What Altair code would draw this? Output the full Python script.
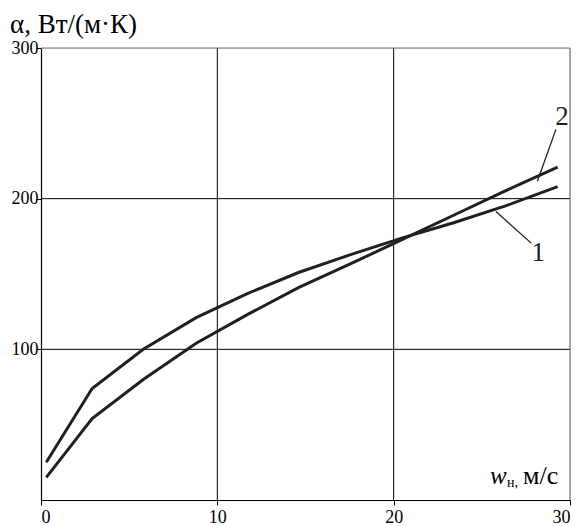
import altair as alt
import pandas as pd

speed = [0.3, 2.9, 5.8, 8.8, 11.7, 14.6, 17.6, 20.5, 23.4, 26.3, 29.3]
alpha_1 = [25, 74, 100, 121, 137, 151, 163, 174, 184, 195, 208]
alpha_2 = [15, 54, 80, 104, 123, 141, 157, 173, 189, 205, 221]

x_ticks = [0, 10, 20, 30]
y_ticks = [100, 200, 300]
x_grid = [10, 20]
y_grid = [100, 200]

curve_labels = ["1", "2"]
label_x = [28.2, 29.55]
label_y = [164, 254]
leader_x = [25.8, 29.2]
leader_x2 = [27.8, 28.15]
leader_y = [191.5, 246]
leader_y2 = [170.5, 211.5]

FONT = "'Liberation Serif', 'Times New Roman', 'DejaVu Serif', serif"
INK = "#231f20"

df = pd.DataFrame({
    "w": speed * 2,
    "a": alpha_1 + alpha_2,
    "curve": ["1"] * len(speed) + ["2"] * len(speed),
})

xs = alt.Scale(domain=[0, 30], nice=False, zero=False)
ys = alt.Scale(domain=[0, 300], nice=False)

base = alt.Chart(df)

lines = base.mark_line(color=INK, strokeWidth=3).encode(
    x=alt.X("w:Q", scale=xs,
            axis=alt.Axis(values=x_ticks, title=None, grid=False, domainColor="black",
                          tickColor="black", tickSize=5, labelFont=FONT, labelFontSize=18,
                          labelColor="black", labelPadding=3, domainWidth=1.2)),
    y=alt.Y("a:Q", scale=ys,
            axis=alt.Axis(values=y_ticks, title=None, grid=False, domainColor="black",
                          tickColor="black", tickSize=5, labelFont=FONT, labelFontSize=18,
                          labelColor="black", labelPadding=-2, domainWidth=1.2)),
    detail="curve:N",
)

vgrid = alt.Chart(pd.DataFrame({"v": x_grid})).mark_rule(color="black", strokeWidth=1).encode(
    x=alt.X("v:Q", scale=xs))
hgrid = alt.Chart(pd.DataFrame({"v": y_grid})).mark_rule(color="black", strokeWidth=1).encode(
    y=alt.Y("v:Q", scale=ys))
top_edge = alt.Chart(pd.DataFrame({"v": [300]})).mark_rule(color="#777777", strokeWidth=1.2).encode(
    y=alt.Y("v:Q", scale=ys))
right_edge = alt.Chart(pd.DataFrame({"v": [30]})).mark_rule(color="#777777", strokeWidth=1.2).encode(
    x=alt.X("v:Q", scale=xs))

ann = pd.DataFrame({
    "t": curve_labels, "lx": label_x, "ly": label_y,
    "x1": leader_x, "x2": leader_x2, "y1": leader_y, "y2": leader_y2,
})
leaders = alt.Chart(ann).mark_rule(color=INK, strokeWidth=1.3).encode(
    x=alt.X("x1:Q", scale=xs), x2="x2:Q",
    y=alt.Y("y1:Q", scale=ys), y2="y2:Q")
labels = alt.Chart(ann).mark_text(font=FONT, fontSize=27, color=INK).encode(
    x=alt.X("lx:Q", scale=xs), y=alt.Y("ly:Q", scale=ys), text="t:N")

ytitle = alt.Chart(pd.DataFrame({"t": ["α, Вт/(м·К)"]})).mark_text(
    font=FONT, fontSize=27, color="black", align="left", baseline="alphabetic").encode(
    x=alt.value(-31), y=alt.value(-15), text="t:N")
xt_w = alt.Chart(pd.DataFrame({"t": ["w"]})).mark_text(
    font=FONT, fontSize=25, fontStyle="italic", color="black", align="left",
    baseline="alphabetic").encode(x=alt.value(449), y=alt.value(436), text="t:N")
xt_sub = alt.Chart(pd.DataFrame({"t": ["н,"]})).mark_text(
    font=FONT, fontSize=14, color="black", align="left",
    baseline="alphabetic").encode(x=alt.value(466), y=alt.value(439), text="t:N")
xt_unit = alt.Chart(pd.DataFrame({"t": ["м/с"]})).mark_text(
    font=FONT, fontSize=26, color="black", align="left",
    baseline="alphabetic").encode(x=alt.value(482), y=alt.value(436), text="t:N")

chart = alt.layer(
    vgrid, hgrid, top_edge, right_edge, lines, leaders, labels,
    ytitle, xt_w, xt_sub, xt_unit,
).properties(
    width=529, height=452, autosize="none",
    padding={"left": 33, "top": 40, "right": 7, "bottom": 26},
).configure_view(stroke=None).configure(background="white")

chart.save("out.html", embed_options={"renderer": "svg", "actions": False})
